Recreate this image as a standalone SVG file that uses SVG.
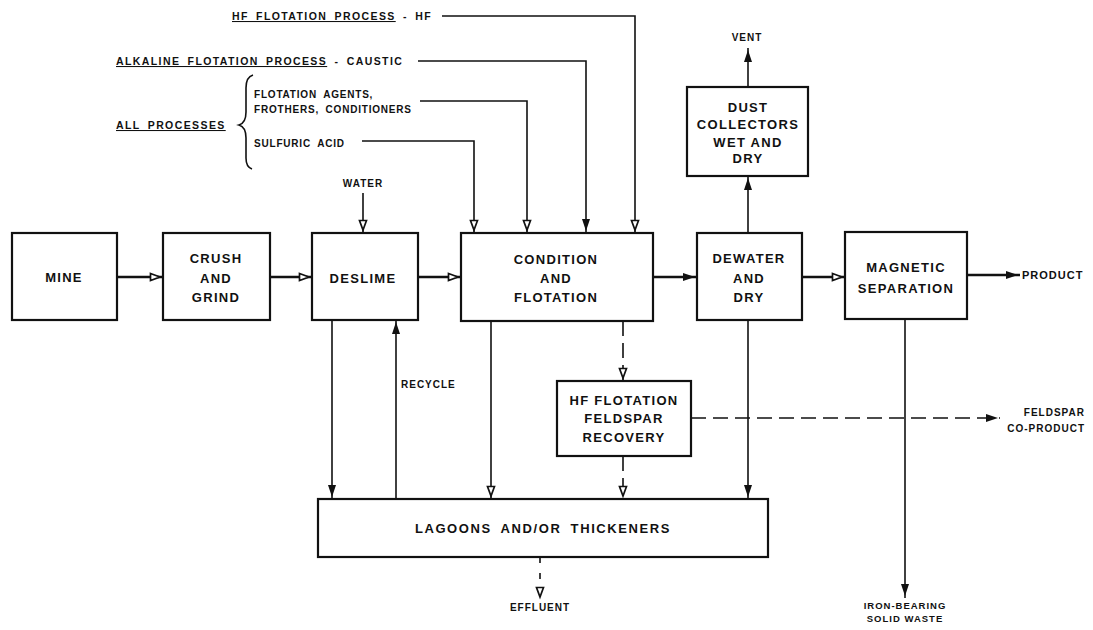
<svg xmlns="http://www.w3.org/2000/svg" width="1093" height="630" viewBox="0 0 1093 630">
<style>
text{font-family:"Liberation Sans",Arial,sans-serif;font-weight:bold;fill:#111}
.bl{font-size:13px;letter-spacing:1.3px;text-anchor:middle}
.sm{font-size:10.5px;letter-spacing:1.4px;word-spacing:3px}
.lb{font-size:11px;letter-spacing:1px}
.box{fill:#fff;stroke:#111;stroke-width:2.2}
.c{fill:none;stroke:#111;stroke-width:1.6}
.m{stroke-width:2.6}
.d{stroke-dasharray:15 7}
.u{text-decoration:underline}
</style>
<defs>
<marker id="ao" viewBox="0 0 14 10" refX="14" refY="5" markerWidth="14" markerHeight="10" orient="auto" markerUnits="userSpaceOnUse">
<path d="M1.5,1.5 L11,5 L1.5,8.5 Z" fill="#fff" stroke="#111" stroke-width="1.7"/>
</marker>
<marker id="af" viewBox="0 0 14 10" refX="14" refY="5" markerWidth="14" markerHeight="10" orient="auto" markerUnits="userSpaceOnUse">
<path d="M0,1 L12,5 L0,9 Z" fill="#111"/>
</marker>
</defs>

<g id="connectors">
<!-- main flow -->
<line class="c m" x1="117" y1="277" x2="163" y2="277" marker-end="url(#ao)"/>
<line class="c m" x1="270" y1="277" x2="312" y2="277" marker-end="url(#ao)"/>
<line class="c m" x1="418" y1="277" x2="461" y2="277" marker-end="url(#ao)"/>
<line class="c m" x1="653" y1="277" x2="697" y2="277" marker-end="url(#af)"/>
<line class="c m" x1="802" y1="277" x2="845" y2="277" marker-end="url(#ao)"/>
<line class="c m" x1="967" y1="275" x2="1020" y2="275" marker-end="url(#af)"/>
<!-- inputs -->
<polyline class="c" points="442,16 635,16 635,233" marker-end="url(#ao)"/>
<polyline class="c" points="418,61 586,61 586,233" marker-end="url(#af)"/>
<polyline class="c" points="420,101 527,101 527,233" marker-end="url(#ao)"/>
<polyline class="c" points="362,141 474,141 474,233" marker-end="url(#ao)"/>
<line class="c" x1="363" y1="193" x2="363" y2="233" marker-end="url(#ao)"/>
<!-- dust / vent -->
<line class="c" x1="748" y1="233" x2="748" y2="176" marker-end="url(#af)"/>
<line class="c" x1="748" y1="87" x2="748" y2="48" marker-end="url(#af)"/>
<!-- to lagoons -->
<line class="c" x1="332" y1="320" x2="332" y2="499" marker-end="url(#af)"/>
<line class="c" x1="396" y1="499" x2="396" y2="320" marker-end="url(#af)"/>
<line class="c" x1="491" y1="321" x2="491" y2="499" marker-end="url(#ao)"/>
<line class="c d" x1="623" y1="321" x2="623" y2="381" marker-end="url(#ao)"/>
<line class="c d" x1="623" y1="456" x2="623" y2="499" marker-end="url(#ao)"/>
<line class="c" x1="748" y1="320" x2="748" y2="499" marker-end="url(#af)"/>
<!-- outputs -->
<line class="c" x1="905" y1="319" x2="905" y2="598" marker-end="url(#af)"/>
<line class="c d" x1="691" y1="418" x2="1000" y2="418" marker-end="url(#af)"/>
<line class="c" x1="540" y1="557" x2="540" y2="600" stroke-dasharray="6 10" marker-end="url(#ao)"/>
<!-- brace -->
<path class="c" d="M253,75 Q246,77 246,88 L246,112 Q246,123 239,125 Q246,127 246,138 L246,158 Q246,167 252,169"/>
</g>

<g id="mine"><rect class="box" x="12" y="233" width="105" height="87"/><text class="bl" x="64" y="282">MINE</text></g>
<g id="crush"><rect class="box" x="163" y="233" width="107" height="87"/><text class="bl" x="216" y="263">CRUSH</text><text class="bl" x="216" y="283">AND</text><text class="bl" x="216" y="302">GRIND</text></g>
<g id="deslime"><rect class="box" x="312" y="233" width="106" height="87"/><text class="bl" x="363" y="283">DESLIME</text></g>
<g id="condition"><rect class="box" x="461" y="233" width="192" height="88"/><text class="bl" x="556" y="264">CONDITION</text><text class="bl" x="556" y="283">AND</text><text class="bl" x="556" y="302">FLOTATION</text></g>
<g id="dewater"><rect class="box" x="697" y="233" width="105" height="87"/><text class="bl" x="749" y="263">DEWATER</text><text class="bl" x="749" y="283">AND</text><text class="bl" x="749" y="302">DRY</text></g>
<g id="magnetic"><rect class="box" x="845" y="232" width="122" height="87"/><text class="bl" x="906" y="272">MAGNETIC</text><text class="bl" x="906" y="293">SEPARATION</text></g>
<g id="dust"><rect class="box" x="687" y="87" width="121" height="89"/><text class="bl" x="748" y="112">DUST</text><text class="bl" x="748" y="129">COLLECTORS</text><text class="bl" x="748" y="147">WET AND</text><text class="bl" x="748" y="163">DRY</text></g>
<g id="hf"><rect class="box" x="557" y="381" width="134" height="75"/><text class="bl" x="624" y="405">HF FLOTATION</text><text class="bl" x="624" y="423">FELDSPAR</text><text class="bl" x="624" y="442">RECOVERY</text></g>
<g id="lagoons"><rect class="box" x="318" y="499" width="450" height="58"/><text class="bl" x="543" y="533" style="letter-spacing:1.6px;word-spacing:4px">LAGOONS AND/OR THICKENERS</text></g>

<g id="labels">
<text class="sm" x="232" y="20"><tspan class="u">HF FLOTATION PROCESS</tspan> - HF</text>
<text class="sm" x="116" y="65"><tspan class="u">ALKALINE FLOTATION PROCESS</tspan> - CAUSTIC</text>
<text class="sm" x="116" y="129"><tspan class="u">ALL PROCESSES</tspan></text>
<text class="sm" x="254" y="98" style="font-size:10px;letter-spacing:0.8px">FLOTATION AGENTS,</text>
<text class="sm" x="254" y="113" style="font-size:10px;letter-spacing:0.8px">FROTHERS, CONDITIONERS</text>
<text class="sm" x="254" y="147" style="font-size:10px;letter-spacing:0.8px">SULFURIC ACID</text>
<text class="lb" x="363" y="187" text-anchor="middle" style="font-size:10px">WATER</text>
<text class="lb" x="747" y="41" text-anchor="middle" style="font-size:10px">VENT</text>
<text class="lb" x="1022" y="279">PRODUCT</text>
<text class="lb" x="401" y="388" style="font-size:10px">RECYCLE</text>
<text class="lb" x="1085" y="416" text-anchor="end" style="font-size:10px">FELDSPAR</text>
<text class="lb" x="1085" y="432" text-anchor="end" style="font-size:10px">CO-PRODUCT</text>
<text class="lb" x="540" y="611" text-anchor="middle" style="font-size:10px">EFFLUENT</text>
<text class="lb" x="905" y="609" text-anchor="middle" style="font-size:9.5px">IRON-BEARING</text>
<text class="lb" x="905" y="622" text-anchor="middle" style="font-size:9.5px">SOLID WASTE</text>
</g>
</svg>
